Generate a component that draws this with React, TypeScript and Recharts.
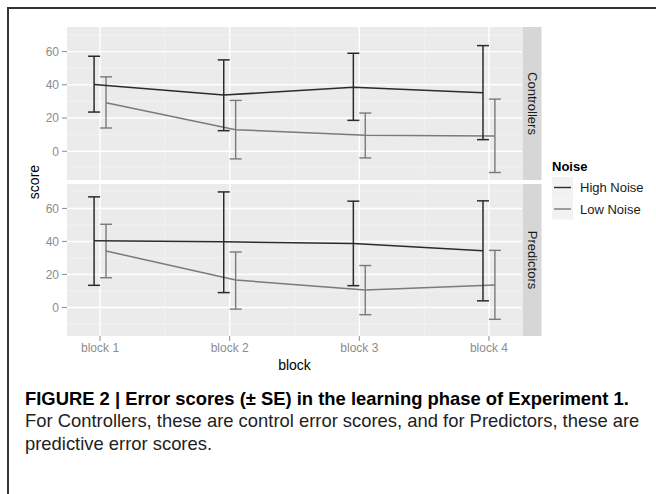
import { ComposedChart, Line, XAxis, YAxis, ErrorBar, CartesianGrid } from "recharts";

// blocks on the x axis
const blocks = [1, 2, 3, 4];
const blockLabels = ["block 1", "block 2", "block 3", "block 4"];
const yTicks = [0, 20, 40, 60];
const yMinor = [-10, 10, 30, 50, 70];
const xMinor = [1.5, 2.5, 3.5];

// Controllers panel: mean, lower (mean - SE), upper (mean + SE)
const ctrlHighMean = [40.2, 33.8, 38.6, 35.2];
const ctrlHighLow = [23.6, 12.4, 18.6, 7.0];
const ctrlHighUp = [57.2, 55.0, 59.0, 63.6];
const ctrlLowMean = [29.2, 13.0, 9.6, 9.2];
const ctrlLowLow = [14.0, -4.6, -4.0, -12.8];
const ctrlLowUp = [44.8, 30.6, 23.0, 31.4];

// Predictors panel
const predHighMean = [40.4, 39.8, 38.8, 34.4];
const predHighLow = [13.4, 9.0, 13.2, 4.0];
const predHighUp = [67.0, 70.0, 64.4, 64.6];
const predLowMean = [34.2, 16.6, 10.6, 13.6];
const predLowLow = [18.0, -1.0, -4.4, -7.2];
const predLowUp = [50.4, 33.6, 25.4, 34.6];

const HIGH = "#2b2b2b";
const LOW = "#7a7a7a";
const FONT = "'Liberation Sans', Arial, Helvetica, sans-serif";
const DODGE = 0.046;

const build = (mean: number[], low: number[], up: number[], shift: number) =>
  blocks.map((b, i) => ({
    x: b + shift,
    y: mean[i],
    err: [mean[i] - low[i], up[i] - mean[i]],
  }));

const panels = [
  {
    name: "Controllers",
    high: build(ctrlHighMean, ctrlHighLow, ctrlHighUp, -DODGE),
    low: build(ctrlLowMean, ctrlLowLow, ctrlLowUp, DODGE),
  },
  {
    name: "Predictors",
    high: build(predHighMean, predHighLow, predHighUp, -DODGE),
    low: build(predLowMean, predLowLow, predLowUp, DODGE),
  },
];

const tickStyle = { fill: "#8c8c8c", fontSize: 12, fontFamily: FONT };

const Panel = ({ idx }: { idx: number }) => {
  const p = panels[idx];
  const bottom = idx === 1;
  return (
    <ComposedChart
      width={656}
      height={bottom ? 186 : 180}
      margin={{ top: bottom ? 4 : 27, right: 134, bottom: 0, left: 0 }}
    >
      <CartesianGrid
        fill="#ebebeb"
        stroke="#f4f4f4"
        strokeWidth={0.8}
        horizontalValues={yMinor}
        verticalValues={xMinor}
      />
      <CartesianGrid
        stroke="#ffffff"
        strokeWidth={1.4}
        horizontalValues={yTicks}
        verticalValues={blocks}
      />
      <XAxis
        dataKey="x"
        type="number"
        domain={[0.745, 4.255]}
        allowDataOverflow
        ticks={blocks}
        tickFormatter={(v: number) => blockLabels[v - 1]}
        hide={!bottom}
        height={30}
        axisLine={false}
        tickSize={5}
        tickLine={{ stroke: "#8c8c8c" }}
        tick={tickStyle}
      />
      <YAxis
        type="number"
        domain={[-17.3, 74.8]}
        allowDataOverflow
        ticks={yTicks}
        width={67}
        axisLine={false}
        tickSize={5}
        tickMargin={3}
        tickLine={{ stroke: "#8c8c8c" }}
        tick={tickStyle}
      />
      <Line
        data={p.low}
        dataKey="y"
        type="linear"
        stroke={LOW}
        strokeWidth={1.5}
        dot={false}
        isAnimationActive={false}
      >
        <ErrorBar dataKey="err" direction="y" width={6} stroke={LOW} strokeWidth={1.4} isAnimationActive={false} />
      </Line>
      <Line
        data={p.high}
        dataKey="y"
        type="linear"
        stroke={HIGH}
        strokeWidth={1.5}
        dot={false}
        isAnimationActive={false}
      >
        <ErrorBar dataKey="err" direction="y" width={6} stroke={HIGH} strokeWidth={1.5} isAnimationActive={false} />
      </Line>
    </ComposedChart>
  );
};

export default function App() {
  return (
    <div style={{ position: "absolute", left: 0, top: 0, width: 656, height: 494, overflow: "hidden", background: "#fff" }}>
      <div
        style={{
          position: "absolute",
          left: 7,
          top: 7,
          width: 649,
          height: 487,
          boxSizing: "border-box",
          borderTop: "2px solid #333",
          borderLeft: "2px solid #333",
        }}
      />
      <div style={{ position: "absolute", left: 0, top: 0 }}>
        <Panel idx={0} />
      </div>
      <div style={{ position: "absolute", left: 0, top: 180 }}>
        <Panel idx={1} />
      </div>
      <svg width={656} height={494} style={{ position: "absolute", left: 0, top: 0, pointerEvents: "none" }} fontFamily={FONT}>
        {/* facet strips */}
        <rect x={522.5} y={27} width={19} height={153} fill="#d6d6d6" />
        <rect x={522.5} y={184} width={19} height={152} fill="#d6d6d6" />
        <text x={532} y={103.5} transform="rotate(90 532 103.5)" textAnchor="middle" dominantBaseline="central" fontSize={13} fill="#1a1a1a">
          Controllers
        </text>
        <text x={532} y={260} transform="rotate(90 532 260)" textAnchor="middle" dominantBaseline="central" fontSize={13} fill="#1a1a1a">
          Predictors
        </text>
        {/* axis titles */}
        <text x={34} y={182} transform="rotate(-90 34 182)" textAnchor="middle" dominantBaseline="central" fontSize={14} fill="#000">
          score
        </text>
        <text x={294.5} y={365} textAnchor="middle" dominantBaseline="central" fontSize={14} fill="#000">
          block
        </text>
        {/* legend */}
        <text x={552} y={166} dominantBaseline="central" fontSize={13} fontWeight="bold" fill="#000">
          Noise
        </text>
        <rect x={552} y={177} width={21} height={21} fill="#f2f2f2" />
        <rect x={552} y={198.5} width={21} height={21} fill="#f2f2f2" />
        <line x1={554} x2={571} y1={187.5} y2={187.5} stroke={HIGH} strokeWidth={1.4} />
        <line x1={554} x2={571} y1={209} y2={209} stroke={LOW} strokeWidth={1.4} />
        <text x={580} y={187.5} dominantBaseline="central" fontSize={13} fill="#1a1a1a">
          High Noise
        </text>
        <text x={580} y={209} dominantBaseline="central" fontSize={13} fill="#1a1a1a">
          Low Noise
        </text>
      </svg>
      <div
        style={{
          position: "absolute",
          left: 25,
          top: 387.75,
          width: 631,
          whiteSpace: "nowrap",
          fontFamily: FONT,
          fontSize: 18.4,
          lineHeight: "22.5px",
          color: "#222",
        }}
      >
        <div style={{ fontWeight: "bold", color: "#000" }}>
          FIGURE 2 | Error scores (± SE) in the learning phase of Experiment 1.
        </div>
        <div>For Controllers, these are control error scores, and for Predictors, these are</div>
        <div>predictive error scores.</div>
      </div>
    </div>
  );
}
